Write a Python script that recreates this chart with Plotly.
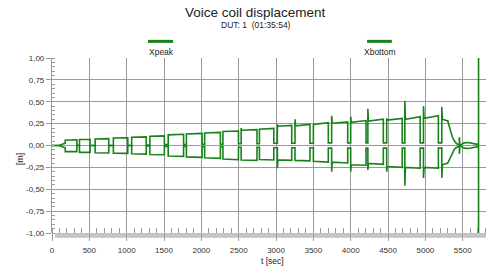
import plotly.graph_objects as go

# ---- data ----
block_start = [177, 368, 578, 822, 1067, 1311, 1556, 1800, 2044, 2289, 2533,
               2778, 3018, 3254, 3500, 3745, 4000, 4230, 4482, 4725, 4975, 5220]
block_end = [333, 510, 760, 1015, 1262, 1505, 1762, 2010, 2255, 2497, 2745,
             2970, 3210, 3455, 3700, 3960, 4205, 4437, 4690, 4930, 5174, 5300]

xpeak_start = [0.060, 0.068, 0.075, 0.085, 0.094, 0.105, 0.122, 0.132, 0.143, 0.160, 0.175,
               0.185, 0.220, 0.225, 0.240, 0.255, 0.265, 0.280, 0.290, 0.300, 0.310, 0.300]
xpeak_end = [0.065, 0.068, 0.078, 0.088, 0.098, 0.110, 0.128, 0.138, 0.150, 0.166, 0.182,
             0.195, 0.230, 0.240, 0.260, 0.270, 0.285, 0.300, 0.310, 0.330, 0.340, 0.280]
xpeak_spike = [None, None, None, None, None, None, None, None, None, None, 0.20,
               None, 0.24, 0.30, None, 0.34, 0.33, 0.42, 0.31, 0.51, 0.45, 0.44]
xpeak_gap = [0.0, 0.0, 0.0, 0.0, 0.005, 0.01, 0.01, 0.015, 0.015, 0.02, 0.02,
             0.025, 0.025, 0.025, 0.03, 0.03, 0.03, 0.03, 0.03, 0.03, 0.03, 0.03]

xbottom_start = [-0.070, -0.078, -0.083, -0.088, -0.095, -0.103, -0.120, -0.130, -0.140, -0.155, -0.165,
                 -0.160, -0.165, -0.170, -0.180, -0.190, -0.220, -0.205, -0.240, -0.250, -0.250, -0.220]
xbottom_end = [-0.070, -0.078, -0.085, -0.090, -0.098, -0.106, -0.124, -0.135, -0.147, -0.163, -0.170,
               -0.165, -0.170, -0.175, -0.190, -0.200, -0.225, -0.215, -0.250, -0.260, -0.260, -0.200]
xbottom_spike = [None, None, None, None, None, None, None, None, None, None, None,
                 None, -0.26, None, None, -0.30, -0.30, -0.28, -0.30, -0.46, -0.37, -0.37]
xbottom_gap = [0.0, 0.0, 0.0, 0.0, -0.005, -0.01, -0.01, -0.015, -0.015, -0.02, -0.02,
               -0.025, -0.025, -0.025, -0.03, -0.03, -0.03, -0.03, -0.03, -0.03, -0.03, -0.03]

lead_t = [0, 88, 177]
xpeak_lead = [0.0, 0.0, 0.027]
xbottom_lead = [0.0, 0.0, -0.027]

tail_t = [5330, 5360, 5390, 5420, 5450, 5455, 5455, 5458, 5460, 5520, 5580, 5640, 5700, 5708, 5708, 5712, 5712]
xpeak_tail = [0.20, 0.10, 0.05, 0.02, 0.01, 0.01, 0.085, 0.085, 0.0, 0.03, 0.035, 0.025, 0.01, 0.01, 0.03, 0.0, 1.0]
xbottom_tail = [-0.14, -0.08, -0.04, -0.02, -0.01, -0.01, -0.085, -0.085, 0.0, -0.03, -0.035, -0.025, -0.01, -0.01, -0.03, 0.0, -1.0]

x_tickvals = [0, 500, 1000, 1500, 2000, 2500, 3000, 3500, 4000, 4500, 5000, 5500]
x_ticktext = ["0", "500", "1000", "1500", "2000", "2500", "3000", "3500", "4000", "4500", "5000", "5500"]
y_tickvals = [1.0, 0.75, 0.5, 0.25, 0.0, -0.25, -0.5, -0.75, -1.0]
y_ticktext = ["1,00", "0,75", "0,50", "0,25", "0,00", "-0,25", "-0,50", "-0,75", "-1,00"]

GREEN = "#17821a"
GRID = "#9a9a9a"
FONT = "Liberation Sans, Arial, sans-serif"


def build(starts, ends, lvl_s, lvl_e, spikes, gaps, lead, tail):
    xs = list(lead_t)
    ys = list(lead)
    for i in range(len(starts)):
        if spikes[i] is not None:
            xs += [starts[i], starts[i] + 8]
            ys += [spikes[i], lvl_s[i]]
        else:
            xs += [starts[i]]
            ys += [lvl_s[i]]
        xs += [ends[i], ends[i]]
        ys += [lvl_e[i], gaps[i]]
        if i + 1 < len(starts):
            xs += [starts[i + 1]]
            ys += [gaps[i]]
    xs = xs[:-1]
    ys = ys[:-1]
    xs += tail_t
    ys += tail
    return xs, ys


px_, py_ = build(block_start, block_end, xpeak_start, xpeak_end, xpeak_spike, xpeak_gap, xpeak_lead, xpeak_tail)
bx_, by_ = build(block_start, block_end, xbottom_start, xbottom_end, xbottom_spike, xbottom_gap, xbottom_lead, xbottom_tail)

fig = go.Figure()
fig.add_trace(go.Scatter(x=px_, y=py_, mode="lines", name="Xpeak",
                         line=dict(color=GREEN, width=1.6), showlegend=False))
fig.add_trace(go.Scatter(x=bx_, y=by_, mode="lines", name="Xbottom",
                         line=dict(color=GREEN, width=1.6), showlegend=False))

# gray band under the plot
fig.add_shape(type="rect", xref="paper", yref="paper", x0=0.007, x1=1.0, y0=-0.027, y1=0.0,
              fillcolor="#c4c4c4", line=dict(width=0), layer="below")

# custom legend (line sample above the name)
fig.add_shape(type="line", xref="paper", yref="paper", x0=0.221, x1=0.279, y0=1.095, y1=1.095,
              line=dict(color=GREEN, width=3))
fig.add_shape(type="line", xref="paper", yref="paper", x0=0.726, x1=0.783, y0=1.095, y1=1.095,
              line=dict(color=GREEN, width=3))

ann = [
    dict(text="Voice coil displacement", x=0.47, y=1.261, font=dict(size=13.5, color="#222")),
    dict(text="DUT: 1  (01:35:54)", x=0.47, y=1.187, font=dict(size=8.5, color="#222")),
    dict(text="Xpeak", x=0.253, y=1.033, font=dict(size=8.5, color="#222")),
    dict(text="Xbottom", x=0.755, y=1.033, font=dict(size=8.5, color="#222")),
    dict(text="t [sec]", x=0.509, y=-0.162, font=dict(size=8.5, color="#222")),
    dict(text="[m]", x=-0.074, y=0.427, textangle=-90, font=dict(size=9, color="#222")),
]
for a in ann:
    a.update(xref="paper", yref="paper", showarrow=False, xanchor="center", yanchor="middle")
    fig.add_annotation(**a)

fig.update_layout(
    width=486, height=271,
    margin=dict(l=52, r=0, t=58, b=38),
    paper_bgcolor="white", plot_bgcolor="white",
    font=dict(family=FONT, size=8, color="#333"),
    showlegend=False,
)
fig.update_xaxes(
    range=[0, 5812], tickvals=x_tickvals, ticktext=x_ticktext,
    showgrid=True, gridcolor=GRID, gridwidth=1.2, zeroline=False,
    ticks="outside", ticklen=7, tickcolor=GRID, tickwidth=1.2,
    minor=dict(dtick=100, ticks="inside", ticklen=5, tickcolor=GRID, showgrid=False),
    showline=False, tickfont=dict(size=8, color="#333"), ticklabelstandoff=2,
)
fig.update_yaxes(
    range=[-1, 1], tickvals=y_tickvals, ticktext=y_ticktext,
    showgrid=True, gridcolor=GRID, gridwidth=1.2, zeroline=False,
    ticks="outside", ticklen=5, tickcolor=GRID, tickwidth=1,
    minor=dict(dtick=0.05, ticks="inside", ticklen=3, tickcolor=GRID, showgrid=False),
    showline=True, linecolor=GRID, linewidth=1.2, tickfont=dict(size=8, color="#333"),
)

fig.write_html("out.html", config={"displayModeBar": False},
               post_script="document.body.style.margin='0';")
